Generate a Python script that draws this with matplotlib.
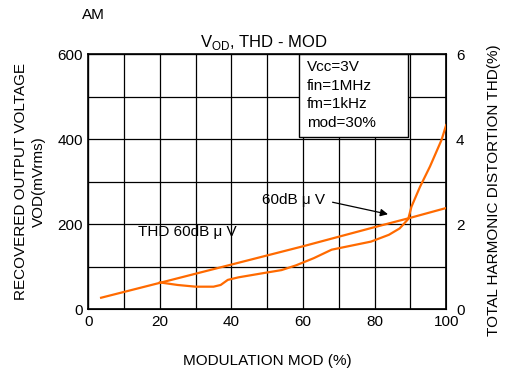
import matplotlib
matplotlib.use("Agg")
import matplotlib.pyplot as plt
from matplotlib.patches import Rectangle
import numpy as np

plt.rcParams['font.family'] = ['Liberation Sans', 'DejaVu Sans']

# VOD (left axis, mVrms)
vod_mod = [3.6, 20, 40, 60, 80, 90, 100]
vod_val = [27, 62, 105, 148, 193, 215, 238]

# THD (right axis, %)
thd_mod = [20, 25, 30, 35, 37, 39, 42, 49, 54, 58, 63, 68, 79, 84, 87, 89.4, 90.3, 92.7, 95.5, 98.7, 100]
thd_val = [0.63, 0.57, 0.53, 0.53, 0.57, 0.69, 0.75, 0.85, 0.92, 1.03, 1.2, 1.4, 1.59, 1.75, 1.9, 2.12, 2.41, 2.88, 3.36, 3.98, 4.33]

x_ticks = [0, 20, 40, 60, 80, 100]
y_ticks = [0, 200, 400, 600]
y2_ticks = [0, 2, 4, 6]
cond_lines = ["Vcc=3V", "fin=1MHz", "fm=1kHz", "mod=30%"]

orange = '#FF6A00'
fs = 11

fig = plt.figure(figsize=(5.07, 3.73), dpi=100)
ax = fig.add_axes([0.174, 0.171, 0.706, 0.684])
ax.set_xlim(0, 100)
ax.set_ylim(0, 600)
ax.set_xticks(x_ticks)
ax.set_xticks(np.arange(10, 100, 20), minor=True)
ax.set_yticks(y_ticks)
ax.set_yticks([100, 300, 500], minor=True)
ax.tick_params(which='both', length=0, labelsize=fs, pad=4)
ax.grid(True, which='both', color='black', lw=0.9)
ax.set_axisbelow(True)
for s in ax.spines.values():
    s.set_linewidth(1.2)

ax2 = ax.twinx()
ax2.set_ylim(0, 6)
ax2.set_yticks(y2_ticks)
ax2.tick_params(length=0, labelsize=fs, pad=7)

# condition box
ax.add_patch(Rectangle((59, 405), 30.4, 195, facecolor='white', edgecolor='black', lw=1.0, zorder=2))
for i, t in enumerate(cond_lines):
    ax.text(61, 570 - i * 44, t, fontsize=fs, va='center', ha='left', zorder=3)

ax.plot(vod_mod, vod_val, color=orange, lw=1.6, zorder=4)
ax2.plot(thd_mod, thd_val, color=orange, lw=1.6)

ax.text(48.5, 257, "60dB μ V", fontsize=fs, va='center', ha='left')
ax.annotate("", xy=(84.5, 222), xytext=(67.5, 253),
            arrowprops=dict(arrowstyle='-|>', color='black', lw=0.9, mutation_scale=11))
ax.text(13.9, 182, "THD 60dB μ V", fontsize=fs, va='center', ha='left')

fig.text(264 / 507, 1 - 42 / 373, r"V$_{\mathregular{OD}}$, THD - MOD", fontsize=12, ha='center', va='center')
fig.text(82 / 507, 1 - 15 / 373, "AM", fontsize=fs, ha='left', va='center')
fig.text(267 / 507, 1 - 361 / 373, "MODULATION MOD (%)", fontsize=fs, ha='center', va='center')
fig.text(30 / 507, 1 - 182 / 373, "RECOVERED OUTPUT VOLTAGE\nVOD(mVrms)", fontsize=fs,
         ha='center', va='center', rotation=90, multialignment='center', linespacing=1.3)
fig.text(494 / 507, 1 - 190 / 373, "TOTAL HARMONIC DISTORTION THD(%)", fontsize=fs,
         ha='center', va='center', rotation=90)

fig.savefig("out.png", dpi=100)
